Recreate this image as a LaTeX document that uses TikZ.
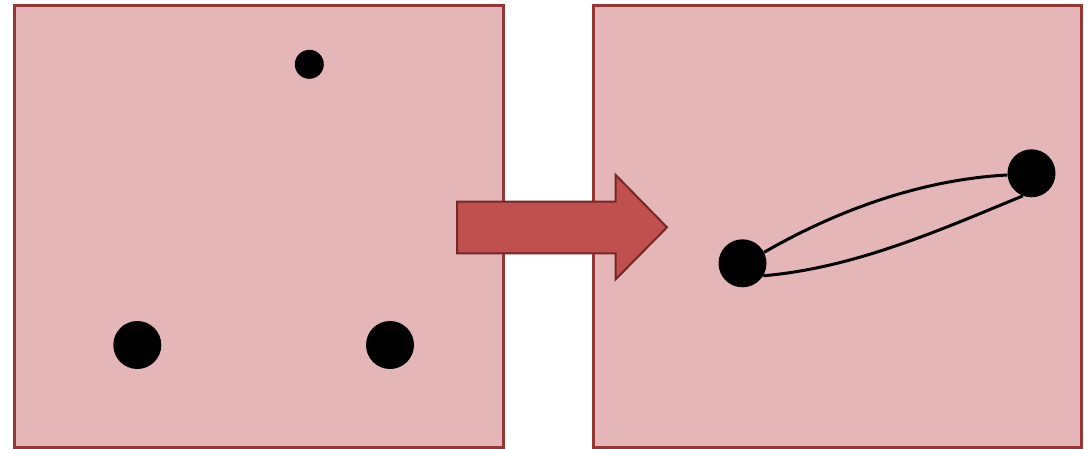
\documentclass[tikz,border=0pt]{standalone}
\usepackage{tikz}
\usepackage{xcolor}
\usetikzlibrary{positioning}

\definecolor{sfondo}{HTML}{E4B6B7}
\definecolor{bordo}{HTML}{953735}
\definecolor{freccia}{HTML}{C0504D}
\definecolor{bordofreccia}{HTML}{732927}

\tikzset{
	riquadro/.style={draw=bordo, fill=sfondo, line width=3pt},
	punto/.style={circle, fill=black, inner sep=0pt, minimum size=#1},
	punto/.default=48pt,
	legame/.style={line width=3pt, black}
}

\begin{document}
\begin{tikzpicture}[x=1pt, y=-1pt]
	\useasboundingbox (0,0) rectangle (1089,449);
	
	%PRIMA
	%riquadro
	\draw [riquadro] (14.5,5.5) rectangle (503.5,447.5);
	\node [punto=29pt] (alto) at (309.3,64.3) {};
	\node [punto] (sx) at (137.3,345) {};
	\node [punto] (dx) at (390,345) {};
	
	
	%DOPO
	%riquadro
	\draw [riquadro] (593,5.5) rectangle (1081.5,447.5);
	\node [punto] (a) at (742.5,263.3) {};
	\node [punto] (b) at (1031.5,173.3) {};
	%linee
	\draw [legame] (a.27) .. controls (837.5,210) and (922,179.5) .. (b.184);
	\draw [legame] (a.-31) .. controls (854.7,268) and (940,230) .. (b.249);
	
	
	%FRECCIA
	\draw [fill=freccia, draw=bordofreccia, line width=2pt, line join=miter]
		(457,201.7) -- (615.7,201.7) -- (615.7,175) -- (667,227.3)
		-- (615.7,279.3) -- (615.7,253.3) -- (457,253.3) -- cycle;
	
\end{tikzpicture}
\end{document}
